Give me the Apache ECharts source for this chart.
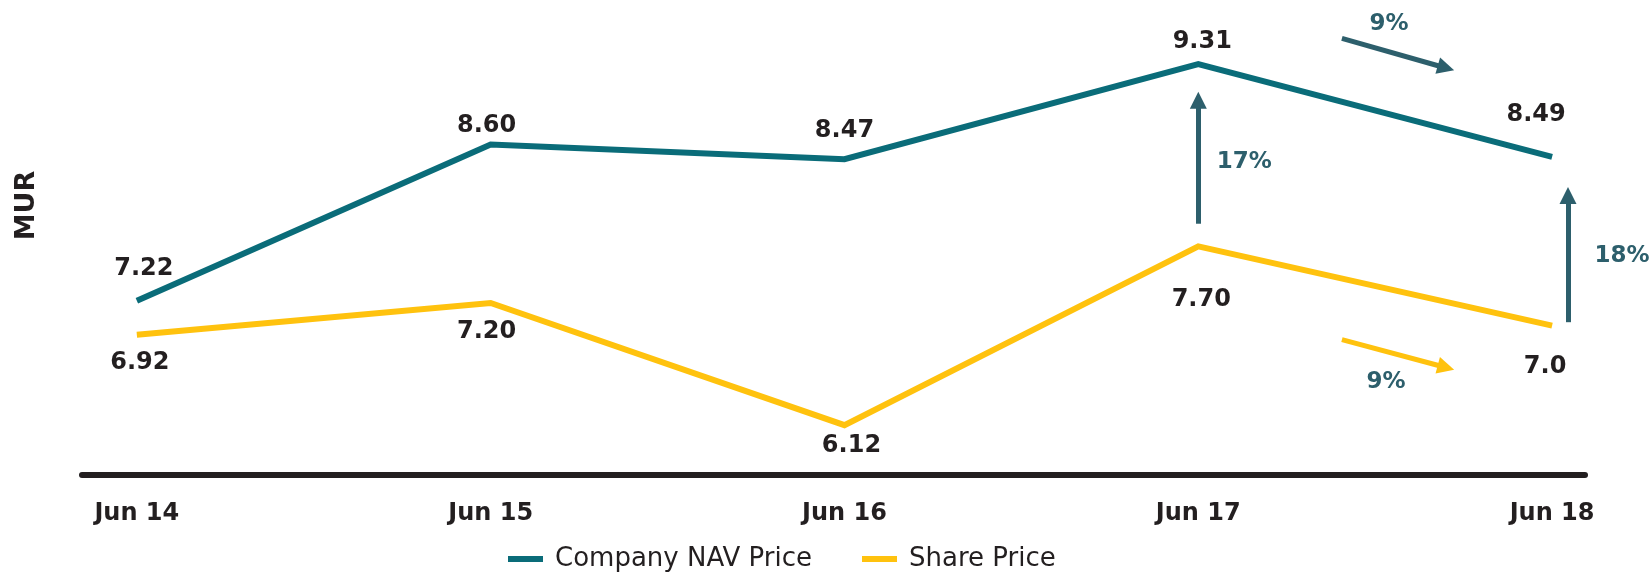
<!DOCTYPE html>
<html>
<head>
<meta charset="utf-8">
<script src="https://cdn.jsdelivr.net/npm/echarts@6/dist/echarts.min.js"></script>
<style>
  html, body { margin: 0; padding: 0; background: #fff; }
  #chart { width: 1650px; height: 577px; }
</style>
</head>
<body>
<div id="chart"></div>
<script>
var categories = ['Jun 14', 'Jun 15', 'Jun 16', 'Jun 17', 'Jun 18']
var navPrice = [7.22, 8.60, 8.47, 9.31, 8.49]
var sharePrice = [6.92, 7.20, 6.12, 7.70, 7.0]
var shareLabels = ['6.92', '7.20', '6.12', '7.70', '7.0']
var changeLabels = ['9%', '17%', '18%', '9%']

// where each value label sits relative to its point (px)
var navLabelOffset = [[7, -32], [-4, -19], [0, -28], [4, -22], [-16, -42]]
var shareLabelOffset = [[3, 28], [-4, 29], [7, 21], [3, 53], [-7, 41]]

var ink = '#231f20'
var navColor = '#0a6c79'
var shareColor = '#ffc20e'
var arrowColor = '#2d5f6c'
var font = 'DejaVu Sans'

function lerp (a, b, t) { return a + (b - a) * t }

var myChart = echarts.init(document.getElementById('chart'))

// arrows: built from the data (offsets are in value units)
var arrows = [
  // NAV falls Jun 17 -> Jun 18
  [{ coord: [3.406, lerp(navPrice[3], navPrice[4], 0.406) + 0.56] },
   { coord: [3.70, lerp(navPrice[3], navPrice[4], 0.70) + 0.54] }],
  // share -> NAV at Jun 17
  [{ coord: [3, sharePrice[3] + 0.2] }, { coord: [3, navPrice[3] - 0.32] }],
  // share -> NAV at Jun 18
  [{ coord: [4.045, sharePrice[4] + 0.03] }, { coord: [4.045, navPrice[4] - 0.34] }],
  // share falls Jun 17 -> Jun 18
  [{ coord: [3.406, lerp(sharePrice[3], sharePrice[4], 0.406) - 0.54], lineStyle: { color: shareColor } },
   { coord: [3.70, lerp(sharePrice[3], sharePrice[4], 0.70) - 0.58] }]
]

function midOf (a) {
  return [(a[0].coord[0] + a[1].coord[0]) / 2, (a[0].coord[1] + a[1].coord[1]) / 2]
}
var changeOffsets = [[-5, -29], [46, 0], [54, -3], [-8, 28]]
var changePoints = arrows.map(function (a, i) {
  return {
    coord: midOf(a),
    value: changeLabels[i],
    label: { offset: changeOffsets[i] }
  }
})

var valueLabel = {
  show: true,
  position: 'inside',
  fontFamily: font,
  fontSize: 24,
  fontWeight: 'bold',
  color: ink
}

const option = {
  animation: false,
  grid: {
    left: 82,
    right: 65,
    top: 20,
    bottom: 102
  },
  legend: {
    left: 503,
    top: 541,
    icon: 'rect',
    itemWidth: 35,
    itemHeight: 6,
    itemGap: 50,
    textStyle: {
      fontFamily: font,
      fontSize: 26,
      color: ink,
      padding: [0, 0, 0, 7]
    },
    data: ['Company NAV Price', 'Share Price']
  },
  xAxis: {
    type: 'value',
    min: -0.155,
    max: 4.093,
    splitLine: { show: false },
    axisTick: { show: false },
    axisLine: {
      show: true,
      onZero: false,
      lineStyle: { color: ink, width: 6 }
    },
    axisLabel: {
      customValues: [0, 1, 2, 3, 4],
      formatter: function (v) { return categories[Math.round(v)] },
      margin: 27,
      fontFamily: font,
      fontSize: 24,
      fontWeight: 'bold',
      color: ink
    }
  },
  yAxis: {
    type: 'value',
    min: 5.68,
    max: 9.7,
    name: 'MUR',
    nameLocation: 'middle',
    nameRotate: 90,
    nameGap: 42,
    nameTextStyle: {
      fontFamily: font,
      fontSize: 27,
      fontWeight: 'bold',
      color: ink,
      padding: [0, 0, 0, 84]
    },
    axisLine: { show: false },
    axisTick: { show: false },
    axisLabel: { show: false },
    splitLine: { show: false }
  },
  series: [
    {
      name: 'Company NAV Price',
      type: 'line',
      symbol: 'circle',
      symbolSize: 0.1,
      showSymbol: true,
      data: navPrice.map(function (v, i) {
        return { value: [i, v], label: { offset: navLabelOffset[i] } }
      }),
      lineStyle: { color: navColor, width: 6, join: 'miter' },
      itemStyle: { color: navColor },
      label: Object.assign({}, valueLabel, {
        formatter: function (p) { return p.value[1].toFixed(2) }
      }),
      markLine: {
        silent: true,
        symbol: ['none', 'triangle'],
        symbolSize: 17,
        label: { show: false },
        lineStyle: { color: arrowColor, width: 5, type: 'solid' },
        emphasis: { disabled: true },
        data: arrows
      },
      markPoint: {
        silent: true,
        symbol: 'circle',
        symbolSize: 0,
        label: {
          show: true,
          position: 'inside',
          formatter: '{c}',
          fontFamily: font,
          fontSize: 23,
          fontWeight: 'bold',
          color: arrowColor
        },
        data: changePoints
      }
    },
    {
      name: 'Share Price',
      type: 'line',
      symbol: 'circle',
      symbolSize: 0.1,
      showSymbol: true,
      data: sharePrice.map(function (v, i) {
        return { value: [i, v], label: { offset: shareLabelOffset[i] } }
      }),
      lineStyle: { color: shareColor, width: 6, join: 'miter' },
      itemStyle: { color: shareColor },
      label: Object.assign({}, valueLabel, {
        formatter: function (p) { return shareLabels[p.dataIndex] }
      })
    }
  ]
}
myChart.setOption(option)
</script>
</body>
</html>
